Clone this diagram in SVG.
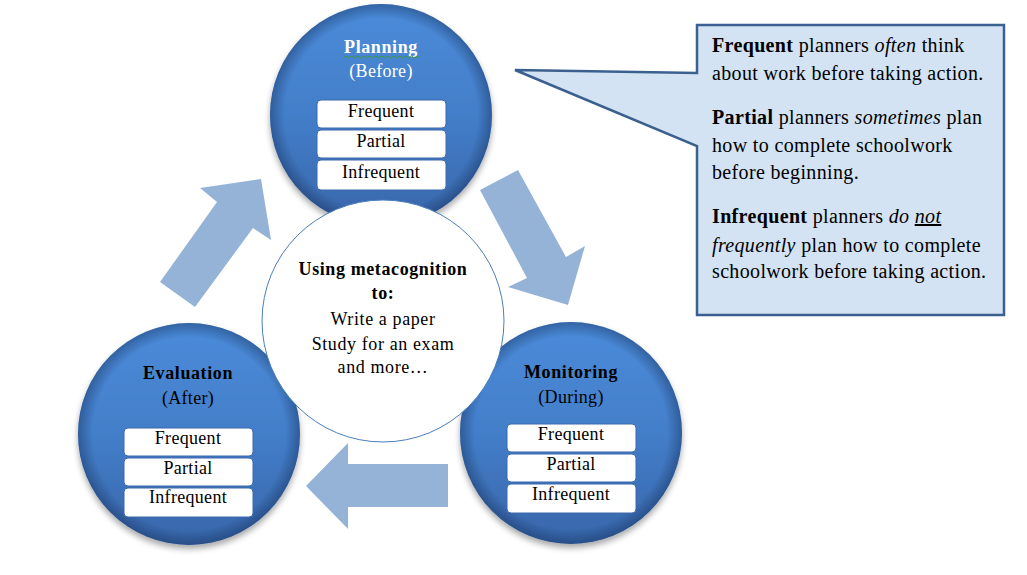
<svg xmlns="http://www.w3.org/2000/svg" width="1027" height="575" viewBox="0 0 1027 575">
<defs>
<linearGradient id="blueGrad" x1="0" y1="0" x2="0" y2="1">
<stop offset="0" stop-color="#4b8bd9"/>
<stop offset="0.5" stop-color="#437ec9"/>
<stop offset="1" stop-color="#3866aa"/>
</linearGradient>
<radialGradient id="rim" cx="0.5" cy="0.5" r="0.5">
<stop offset="0.87" stop-color="#102850" stop-opacity="0"/>
<stop offset="1" stop-color="#102850" stop-opacity="0.4"/>
</radialGradient>
<filter id="shadow" x="-20%" y="-20%" width="140%" height="150%">
<feGaussianBlur in="SourceAlpha" stdDeviation="3"/>
<feOffset dx="0" dy="4" result="b"/>
<feComponentTransfer><feFuncA type="linear" slope="0.35"/></feComponentTransfer>
<feMerge><feMergeNode/><feMergeNode in="SourceGraphic"/></feMerge>
</filter>
<style>
.box{fill:#ffffff;stroke:#3a68ad;stroke-width:1;}
.bt{font-family:"Liberation Serif","Times New Roman",serif;font-size:18px;fill:#000;text-anchor:middle;letter-spacing:0.3px;}
.arrow{fill:#95b3d7;}
.head{font-family:"Liberation Serif","Times New Roman",serif;font-size:18px;font-weight:bold;text-anchor:middle;letter-spacing:0.6px;}
.sub{font-family:"Liberation Serif","Times New Roman",serif;font-size:18px;text-anchor:middle;letter-spacing:0.3px;}
.ct{font-family:"Liberation Serif","Times New Roman",serif;font-size:18px;text-anchor:middle;fill:#000;letter-spacing:0.6px;}
.cl{font-family:"Liberation Serif","Times New Roman",serif;font-size:20px;fill:#000;letter-spacing:0.35px;}
</style>
</defs>
<rect width="1027" height="575" fill="#ffffff"/>

<g id="connectors">
<polygon class="arrow" points="160,282 217,202 200,188 261,179 271,240 253,228 195,307"/>
<polygon class="arrow" points="480,190 518,170 566,257 585,246 568,305 508,287 527,278"/>
<polygon class="arrow" points="448,464 348,464 348,443 306,486 348,529 348,507 448,507"/>
</g>

<g id="planning">
<circle cx="381" cy="115" r="111" fill="url(#blueGrad)" filter="url(#shadow)"/>
<circle cx="381" cy="115" r="111" fill="url(#rim)"/>
<text class="head" x="381" y="53" fill="#ffffff">Planning</text>
<path d="M344,57 q1.5,-2 3,0 t3,0 t3,0 t3,0 t3,0 t3,0 t3,0 t3,0 t3,0 t3,0 t3,0 t3,0 t3,0 t3,0 t3,0 t3,0 t3,0 t3,0 t3,0 t3,0 t3,0 t3,0 t3,0 t3,0 t3,0" fill="none" stroke="#3c9a3c" stroke-width="1"/>
<text class="sub" x="381" y="77" fill="#ffffff">(Before)</text>
<rect class="box" x="317" y="100" width="129" height="28" rx="4"/>
<rect class="box" x="317" y="130" width="129" height="28" rx="4"/>
<rect class="box" x="317" y="160" width="129" height="30" rx="4"/>
<text class="bt" x="381" y="117">Frequent</text>
<text class="bt" x="381" y="147">Partial</text>
<text class="bt" x="381" y="178">Infrequent</text>
</g>

<g id="evaluation">
<circle cx="189" cy="434" r="111" fill="url(#blueGrad)" filter="url(#shadow)"/>
<circle cx="189" cy="434" r="111" fill="url(#rim)"/>
<text class="head" x="188" y="379" fill="#000">Evaluation</text>
<text class="sub" x="188" y="404" fill="#000">(After)</text>
<rect class="box" x="124" y="428" width="129" height="28" rx="4"/>
<rect class="box" x="124" y="458" width="129" height="28" rx="4"/>
<rect class="box" x="124" y="488" width="129" height="29" rx="4"/>
<text class="bt" x="188" y="444">Frequent</text>
<text class="bt" x="188" y="474">Partial</text>
<text class="bt" x="188" y="503">Infrequent</text>
</g>

<g id="monitoring">
<circle cx="571" cy="433" r="111" fill="url(#blueGrad)" filter="url(#shadow)"/>
<circle cx="571" cy="433" r="111" fill="url(#rim)"/>
<text class="head" x="571" y="378" fill="#000">Monitoring</text>
<text class="sub" x="571" y="403" fill="#000">(During)</text>
<rect class="box" x="507" y="424" width="129" height="28" rx="4"/>
<rect class="box" x="507" y="454" width="129" height="28" rx="4"/>
<rect class="box" x="507" y="484" width="129" height="29" rx="4"/>
<text class="bt" x="571" y="440">Frequent</text>
<text class="bt" x="571" y="470">Partial</text>
<text class="bt" x="571" y="500">Infrequent</text>
</g>

<g id="center">
<circle cx="383" cy="321" r="121" fill="#ffffff" stroke="#4a7ebb" stroke-width="1"/>
<text class="ct" x="383" y="275" font-weight="bold">Using metacognition</text>
<text class="ct" x="383" y="299" font-weight="bold">to:</text>
<text class="ct" x="383" y="325">Write a paper</text>
<text class="ct" x="383" y="350">Study for an exam</text>
<text class="ct" x="383" y="373">and more…</text>
</g>

<g id="callout">
<polygon points="697,25 1004,25 1004,315 697,315 697,146 515,70 697,73" fill="#d3e3f3" stroke="#3b5f8e" stroke-width="2.5" stroke-linejoin="miter"/>
<text class="cl" x="712" y="52"><tspan font-weight="bold">Frequent</tspan> planners <tspan font-style="italic">often</tspan> think</text>
<text class="cl" x="712" y="80">about work before taking action.</text>
<text class="cl" x="712" y="124"><tspan font-weight="bold">Partial</tspan> planners <tspan font-style="italic">sometimes</tspan> plan</text>
<text class="cl" x="712" y="152">how to complete schoolwork</text>
<text class="cl" x="712" y="179">before beginning.</text>
<text class="cl" x="712" y="223"><tspan font-weight="bold">Infrequent</tspan>  planners <tspan font-style="italic">do <tspan text-decoration="underline">not</tspan></tspan></text>
<text class="cl" x="712" y="252"><tspan font-style="italic">frequently</tspan> plan how to complete</text>
<text class="cl" x="712" y="278">schoolwork before taking action.</text>
</g>
</svg>
